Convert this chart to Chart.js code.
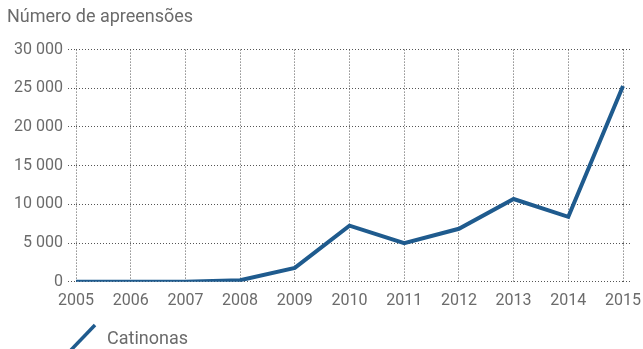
<!DOCTYPE html>
<html>
<head>
<meta charset="utf-8">
<script src="https://cdn.jsdelivr.net/npm/chart.js"></script>
<style>
  html, body { margin: 0; padding: 0; background: #fff; }
  #wrap { width: 643px; height: 349px; position: relative; }
</style>
</head>
<body>
<div id="wrap"><canvas id="chart"></canvas></div>
<script>
// data
const years = ["2005", "2006", "2007", "2008", "2009", "2010", "2011", "2012", "2013", "2014", "2015"];
const catinonas = [0, 0, 0, 200, 1800, 7250, 5000, 6850, 10700, 8400, 25300];
const yTicks = [0, 5000, 10000, 15000, 20000, 25000, 30000];

const lineColor = "#1f5b8e";
const textColor = "#6b6b6b";
const gridColor = "#555";
const fontFamily = "Roboto, 'Noto Sans', sans-serif";

// space-separated thousands, like "25 000"
function fmt(v) {
  return String(v).replace(/\B(?=(\d{3})+(?!\d))/g, " ");
}

// legend drawn by hand: slanted line + label
const slashLegend = {
  id: "slashLegend",
  afterDraw(chart) {
    const ctx = chart.ctx;
    ctx.save();
    ctx.strokeStyle = lineColor;
    ctx.lineWidth = 3.5;
    ctx.beginPath();
    ctx.moveTo(71, 350);
    ctx.lineTo(95, 325);
    ctx.stroke();
    ctx.fillStyle = textColor;
    ctx.font = "18px " + fontFamily;
    ctx.textBaseline = "middle";
    ctx.fillText(chart.data.datasets[0].label, 107, 339);
    ctx.restore();
  }
};

new Chart("chart", {
  type: "line",
  data: {
    labels: years,
    datasets: [{
      label: "Catinonas",
      data: catinonas,
      borderColor: lineColor,
      backgroundColor: lineColor,
      borderWidth: 4,
      pointRadius: 0,
      tension: 0
    }]
  },
  options: {
    responsive: true,
    maintainAspectRatio: false,
    animation: false,
    layout: { padding: { left: 7, right: 0, top: 0, bottom: 28 } },
    plugins: {
      legend: { display: false },
      tooltip: { enabled: false },
      title: {
        display: true,
        text: "Número de apreensões",
        align: "start",
        color: textColor,
        font: { family: fontFamily, size: 18, weight: "normal" },
        padding: { top: 7, bottom: 21 }
      }
    },
    scales: {
      x: {
        afterFit(axis) { axis.paddingLeft = 0; axis.paddingRight = 0; },
        grid: {
          color: gridColor,
          lineWidth: 1,
          drawTicks: false
        },
        border: { display: false, dash: [1, 2] },
        ticks: {
          color: textColor,
          font: { family: fontFamily, size: 16 },
          padding: 10,
          maxRotation: 0,
          autoSkip: false
        }
      },
      y: {
        min: 0,
        max: 30000,
        afterBuildTicks(axis) {
          axis.ticks = yTicks.map(v => ({ value: v }));
        },
        afterFit(axis) { axis.width = 69; },
        grid: {
          color: gridColor,
          lineWidth: 1,
          tickBorderDash: [1, 2],
          tickLength: 8
        },
        border: { display: false, dash: [1, 2] },
        ticks: {
          color: textColor,
          font: { family: fontFamily, size: 16 },
          padding: 5,
          callback: v => fmt(v)
        }
      },
      yRight: {
        position: "right",
        min: 0,
        max: 30000,
        afterBuildTicks(axis) {
          axis.ticks = yTicks.map(v => ({ value: v }));
        },
        afterFit(axis) { axis.width = 20; },
        grid: {
          drawOnChartArea: false,
          color: gridColor,
          tickBorderDash: [1, 2],
          tickLength: 8
        },
        border: { display: false },
        ticks: { display: false }
      }
    }
  },
  plugins: [slashLegend]
});
</script>
</body>
</html>
